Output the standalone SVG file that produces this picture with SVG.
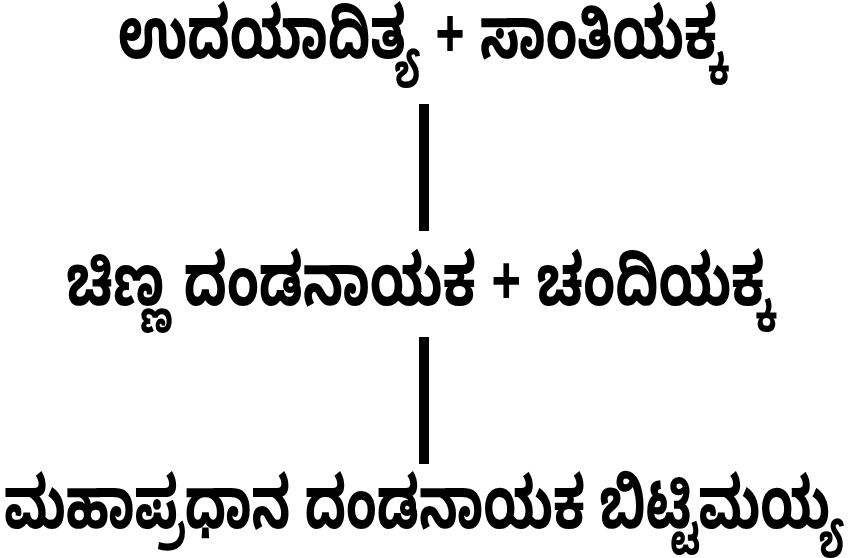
<svg xmlns="http://www.w3.org/2000/svg" width="850" height="558" viewBox="0 0 850 558">
<style>
text{font-family:"Noto Sans Kannada","Noto Sans","Noto Serif Kannada",sans-serif;font-weight:bold;font-size:72px;text-anchor:middle;fill:#000}
.c{fill:#000}
</style>
<rect width="850" height="558" fill="#fff"/>
<g id="n1"><text transform="translate(422,58) scale(0.72,1)">ಉದಯಾದಿತ್ಯ + ಸಾಂತಿಯಕ್ಕ</text></g>
<g id="n2"><text transform="translate(420,305) scale(0.73,1)">ಚಿಣ್ಣ ದಂಡನಾಯಕ + ಚಂದಿಯಕ್ಕ</text></g>
<g id="n3"><text transform="translate(424,528) scale(0.7,1)">ಮಹಾಪ್ರಧಾನ ದಂಡನಾಯಕ ಬಿಟ್ಟಿಮಯ್ಯ</text></g>
<g id="connectors">
<rect class="c" x="419" y="104" width="10" height="127"/>
<rect class="c" x="419" y="337" width="10" height="127"/>
</g>
</svg>
